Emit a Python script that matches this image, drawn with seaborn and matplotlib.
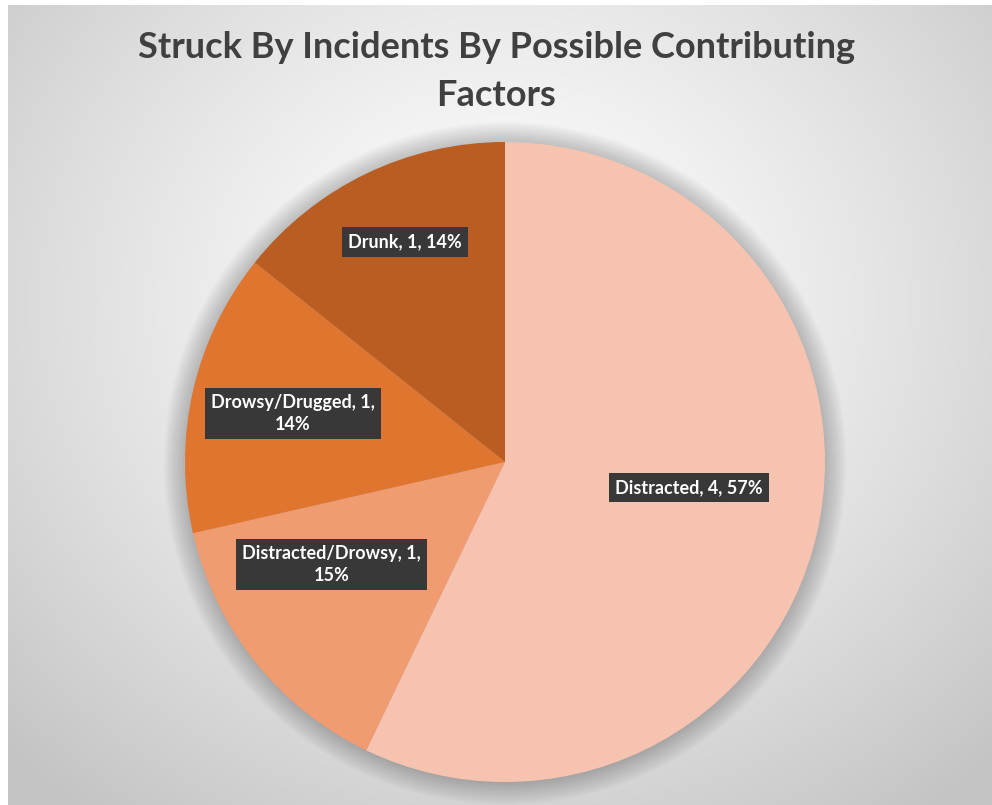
import numpy as np
import seaborn as sns
import matplotlib.pyplot as plt

# data
factors = ['Distracted', 'Distracted/Drowsy', 'Drowsy/Drugged', 'Drunk']
counts = [4, 1, 1, 1]
pct_labels = ['57%', '15%', '14%', '14%']   # as printed on the chart
colors = ['#F5C3AF', '#F09B70', '#E07530', '#B95D22']

label_text = ['Distracted, 4, 57%',
              'Distracted/Drowsy, 1,\n15%',
              'Drowsy/Drugged, 1,\n14%',
              'Drunk, 1, 14%']
# label placement: fraction of radius and angle shift from wedge middle
label_r = [0.58, 0.63, 0.68, 0.755]
label_shift = [5, -8, 0, -1.3]

sns.set_theme(style='white')
plt.rcParams['font.family'] = ['Lato', 'DejaVu Sans']

W, H = 992, 805
fig = plt.figure(figsize=(W / 100, H / 100), dpi=100, facecolor='white')

# radial grey background
bg = fig.add_axes([8 / W, 0, 1 - 8 / W, 1 - 5 / H])
yy, xx = np.mgrid[0:H, 0:W]
d = np.hypot(xx - 500, (yy - 300) * 1.1) / 700
shade = 1 - 0.23 * np.clip(d, 0, 1) ** 1.3
bg.imshow(np.dstack([shade] * 3), aspect='auto', extent=[0, 1, 0, 1])
bg.set_axis_off()

cx, cy, R = 505, 462, 320
ax = fig.add_axes([(cx - R) / W, (H - cy - R) / H, 2 * R / W, 2 * R / H])

# soft glow/shadow round the pie
for k in range(12):
    ax.add_patch(plt.Circle((0.0, -0.004), 1.0 + 0.006 * k, color='black',
                            alpha=0.018, lw=0, zorder=0, clip_on=False))

wedges, _ = ax.pie(counts, colors=colors, startangle=90, counterclock=False,
                   radius=1.0, wedgeprops=dict(linewidth=0, zorder=2))

for w, txt, r, s in zip(wedges, label_text, label_r, label_shift):
    mid = np.deg2rad((w.theta1 + w.theta2) / 2 + s)
    ax.text(r * np.cos(mid), r * np.sin(mid), txt, ha='center', va='center',
            color='white', fontsize=13, fontweight='bold', zorder=5,
            linespacing=1.3,
            bbox=dict(boxstyle='square,pad=0.35', fc='#383838', ec='none'))

ax.set_xlim(-1, 1)
ax.set_ylim(-1, 1)
ax.set_axis_off()

fig.text(0.5, 1 - 47 / H, 'Struck By Incidents By Possible Contributing',
         ha='center', va='center', fontsize=26, fontweight='bold', color='#404040')
fig.text(0.5, 1 - 96 / H, 'Factors',
         ha='center', va='center', fontsize=26, fontweight='bold', color='#404040')

fig.savefig('out.png', dpi=100, facecolor='white')
